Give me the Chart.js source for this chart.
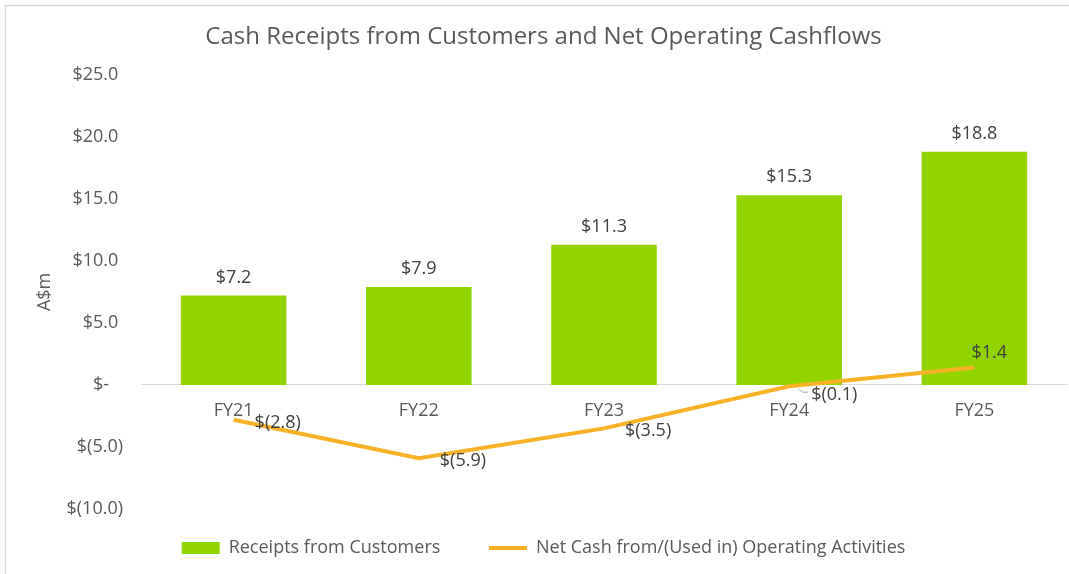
<!DOCTYPE html>
<html>
<head>
<meta charset="utf-8">
<script src="https://cdn.jsdelivr.net/npm/chart.js@4"></script>
<style>
  html, body { margin: 0; padding: 0; background: #fff; }
  #wrap { width: 1069px; height: 574px; }
</style>
</head>
<body>
<div id="wrap"><canvas id="chart" width="1069" height="574"></canvas></div>
<script>
// data
const years = ["FY21", "FY22", "FY23", "FY24", "FY25"];
const receipts = [7.2, 7.9, 11.3, 15.3, 18.8];
const netCash = [-2.8, -5.9, -3.5, -0.1, 1.4];
const yTicks = [25, 20, 15, 10, 5, 0, -5, -10];

const GREY = "#595959";
const FONT = "'Open Sans', 'Noto Sans', sans-serif";

// accounting style number format
function acct(v) {
    if (v === 0) return "$-   ";
    if (v < 0) return "$(" + Math.abs(v).toFixed(1) + ")";
    return "$" + v.toFixed(1) + " ";
}

// white background + the thin top/left frame
const framePlugin = {
    id: "frame",
    beforeDraw(chart) {
        const ctx = chart.ctx;
        ctx.save();
        ctx.fillStyle = "#fff";
        ctx.fillRect(0, 0, chart.width, chart.height);
        ctx.strokeStyle = "#d9d9d9";
        ctx.lineWidth = 1.5;
        ctx.beginPath();
        ctx.moveTo(chart.width, 5.5);
        ctx.lineTo(5.5, 5.5);
        ctx.lineTo(5.5, chart.height);
        ctx.stroke();
        ctx.restore();
    }
};

// value labels on bars and line points
const labelPlugin = {
    id: "valueLabels",
    afterDatasetsDraw(chart) {
        const ctx = chart.ctx;
        ctx.save();
        ctx.font = "18px " + FONT;
        ctx.fillStyle = "#404040";

        // bars: centred above
        chart.getDatasetMeta(0).data.forEach((bar, i) => {
            ctx.textAlign = "center";
            ctx.textBaseline = "middle";
            ctx.fillText(acct(receipts[i]).trim(), bar.x, bar.y - 18);
        });

        // line: to the right of each point
        chart.getDatasetMeta(1).data.forEach((pt, i) => {
            const txt = acct(netCash[i]).trim();
            ctx.textBaseline = "middle";
            ctx.textAlign = "left";
            if (netCash[i] > 0) {
                ctx.fillText(txt, pt.x - 3, pt.y - 15);
            } else if (i === 3) {
                // small leader line like the original
                ctx.strokeStyle = "#a6a6a6";
                ctx.lineWidth = 1;
                ctx.beginPath();
                ctx.moveTo(pt.x + 10, pt.y + 3);
                ctx.lineTo(pt.x + 13, pt.y + 6);
                ctx.lineTo(pt.x + 19, pt.y + 6);
                ctx.stroke();
                ctx.fillText(txt, pt.x + 22, pt.y + 9);
            } else {
                ctx.fillText(txt, pt.x + 21, pt.y + 3);
            }
        });
        ctx.restore();
    }
};

new Chart(document.getElementById("chart"), {
    type: "bar",
    data: {
        labels: years,
        datasets: [
            {
                type: "bar",
                label: "Receipts from Customers",
                data: receipts,
                backgroundColor: "#92D400",
                categoryPercentage: 1.0,
                barPercentage: 0.57,
                pointStyle: "rect",
                order: 2
            },
            {
                type: "line",
                label: "Net Cash from/(Used in) Operating Activities",
                data: netCash,
                borderColor: "#F9B225",
                backgroundColor: "#F9B225",
                borderWidth: 4,
                pointRadius: 0,
                tension: 0,
                pointStyle: "line",
                order: 1
            }
        ]
    },
    options: {
        responsive: false,
        animation: false,
        layout: {
            padding: { left: 20, right: 2, top: 12, bottom: 7 }
        },
        plugins: {
            title: {
                display: true,
                text: "Cash Receipts from Customers and Net Operating Cashflows",
                color: GREY,
                font: { family: FONT, size: 24, weight: "normal" },
                padding: { top: 11, bottom: 23 }
            },
            legend: {
                position: "bottom",
                labels: {
                    color: GREY,
                    font: { family: FONT, size: 18 },
                    usePointStyle: true,
                    pointStyleWidth: 38,
                    boxHeight: 12,
                    padding: 30,
                    sort: (a, b) => a.datasetIndex - b.datasetIndex,
                    generateLabels(chart) {
                        const items = Chart.defaults.plugins.legend.labels.generateLabels(chart);
                        // widen the gap after the first entry
                        items.forEach(it => { if (it.datasetIndex === 0) it.text += "    "; });
                        return items;
                    }
                }
            },
            tooltip: { enabled: false }
        },
        scales: {
            x: {
                position: { y: 0 },
                grid: { display: false, drawTicks: false },
                border: { color: "#d9d9d9", width: 1 },
                ticks: {
                    color: GREY,
                    font: { family: FONT, size: 18 },
                    padding: 15
                }
            },
            y: {
                min: -10,
                max: 25,
                afterBuildTicks(scale) {
                    scale.ticks = yTicks.map(v => ({ value: v }));
                },
                afterFit(scale) {
                    scale.width = 121;
                },
                grid: { display: false, drawTicks: false },
                border: { display: false },
                ticks: {
                    color: GREY,
                    font: { family: FONT, size: 18 },
                    padding: 18,
                    callback: v => acct(v)
                },
                title: {
                    display: true,
                    text: "A$m",
                    color: GREY,
                    font: { family: FONT, size: 18 },
                    padding: { top: 14, bottom: 0 }
                }
            }
        }
    },
    plugins: [framePlugin, labelPlugin]
});
</script>
</body>
</html>
